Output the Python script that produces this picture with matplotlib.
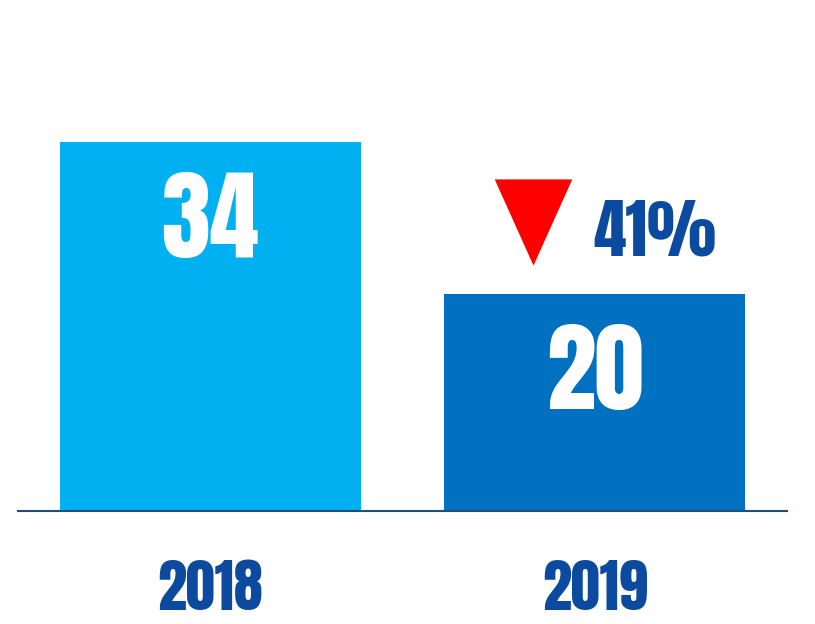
import matplotlib.pyplot as plt
from matplotlib import font_manager

years = ["2018", "2019"]
values = [34, 20]
bar_colors = ["#00B0F0", "#0070C0"]
change_label = "41%"

text_blue = "#0B4A9E"
line_blue = "#1F4E79"

# Impact-like face
names = {f.name for f in font_manager.fontManager.ttflist}
for cand in ["Anton", "Oswald", "Fjalla One", "Barlow Condensed"]:
    if cand in names:
        break
plt.rcParams['font.family'] = [cand, "DejaVu Sans"]

fig = plt.figure(figsize=(8.15, 6.24), dpi=100)
# axes: x 18..787 px, y 0..511 px from top
ax = fig.add_axes([18/815, (624-511)/624, 769/815, 511/624])

x = list(range(len(years)))
ax.bar(x, values, width=301/384.5, color=bar_colors)
ax.set_xlim(-0.5, 1.5)
ax.set_ylim(0, 511/(369/34))

for s in ["top", "right", "left"]:
    ax.spines[s].set_visible(False)
ax.spines["bottom"].set_color(line_blue)
ax.spines["bottom"].set_linewidth(1.5)
ax.set_xticks([])
ax.set_yticks([])

# values inside the bars
for xi, v in zip(x, values):
    ax.text(xi, v - 10.6, str(v), ha="center", va="baseline",
            color="white", fontsize=71)

# year labels under the axis
for xi, y in zip(x, years):
    ax.text(xi, -99/511, y, ha="center", va="baseline", color=text_blue,
            fontsize=42, transform=ax.get_xaxis_transform())

# change marker (slightly taller than wide)
tri = [(-0.9, 1), (0.9, 1), (0, -1)]
ax.scatter([0.839], [values[1] + 6.63], marker=tri, s=3850, color="#FF0000",
           linewidths=0, clip_on=False)
ax.text(1.157, values[1] + 3.55, change_label, ha="center", va="baseline",
        color=text_blue, fontsize=47)

fig.savefig("out.png", dpi=100)
